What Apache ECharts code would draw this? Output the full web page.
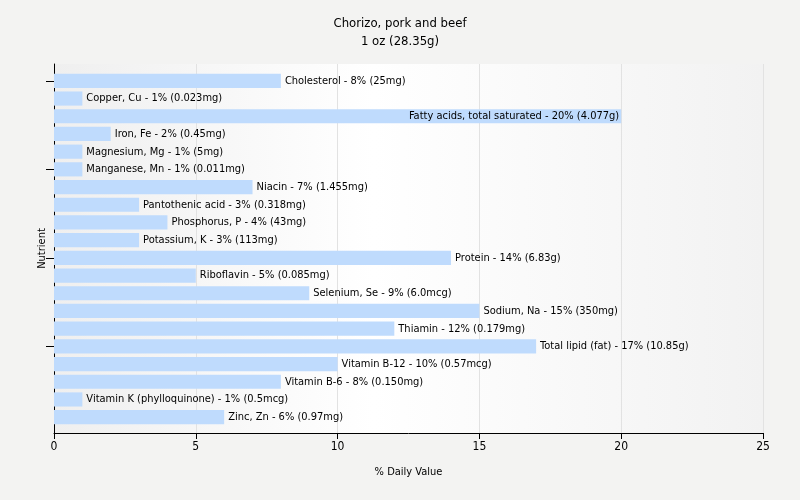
<!DOCTYPE html>
<html><head><meta charset="utf-8">
<script src="https://cdn.jsdelivr.net/npm/echarts@6/dist/echarts.min.js"></script>
<style>html,body{margin:0;padding:0;background:#f3f3f2}#c{width:800px;height:500px}</style>
</head><body><div id="c"></div>
<script>
const categories = ["Cholesterol","Copper, Cu","Fatty acids, total saturated","Iron, Fe","Magnesium, Mg","Manganese, Mn","Niacin","Pantothenic acid","Phosphorus, P","Potassium, K","Protein","Riboflavin","Selenium, Se","Sodium, Na","Thiamin","Total lipid (fat)","Vitamin B-12","Vitamin B-6","Vitamin K (phylloquinone)","Zinc, Zn"];
const values = [8,1,20,2,1,1,7,3,4,3,14,5,9,15,12,17,10,8,1,6];
const amounts = ["25mg","0.023mg","4.077g","0.45mg","5mg","0.011mg","1.455mg","0.318mg","43mg","113mg","6.83g","0.085mg","6.0mcg","350mg","0.179mg","10.85g","0.57mcg","0.150mg","0.5mcg","0.97mg"];
const xTicks = [0,5,10,15,20,25];

const font = '"DejaVu Sans Condensed", Tahoma, "DejaVu Sans", sans-serif';
const chart = echarts.init(document.getElementById('c'));
const data = values.map((v,i)=>({
  value: v,
  label: v >= 20 ? {position:'insideRight', distance: 2} : {position:'right', distance: 4}
}));
chart.setOption({
  backgroundColor:'#f3f3f2',
  animation:false,
  title:{text:'Chorizo, pork and beef\n1 oz (28.35g)', left:'center', top:10,
    textStyle:{fontFamily:font,fontSize:13,fontWeight:'normal',color:'#000',lineHeight:18}},
  grid:[
    {left:54,right:37,top:64,height:369,show:true,borderWidth:0,
     backgroundColor:{type:'linear',x:0,y:0,x2:1,y2:0,colorStops:[{offset:0,color:'#efefef'},{offset:0.45,color:'#ffffff'},{offset:1,color:'#f2f2f2'}]}},
    {left:54,right:37,top:72,height:354}
  ],
  xAxis:[
    {type:'value',gridIndex:0,min:0,max:25,interval:5,
     axisLine:{show:true,lineStyle:{color:'#000'}},
     axisTick:{show:true,length:6,lineStyle:{color:'#000'}},
     axisLabel:{fontFamily:font,fontSize:12,color:'#000',margin:8,formatter:v=>xTicks.includes(v)?String(v):''},
     splitLine:{show:true,lineStyle:{color:'#e2e2e2'}},
     name:'% Daily Value',nameLocation:'middle',nameGap:34,
     nameTextStyle:{fontFamily:font,fontSize:11,color:'#000'}},
    {type:'value',gridIndex:1,min:0,max:25,show:false}
  ],
  yAxis:[
    {type:'value',gridIndex:0,min:0,max:1,
     axisLine:{show:true,lineStyle:{color:'#000'}},axisTick:{show:false},axisLabel:{show:false},splitLine:{show:false},
     name:'Nutrient',nameLocation:'middle',nameGap:6,nameRotate:90,
     nameTextStyle:{fontFamily:font,fontSize:11,color:'#000'}},
    {type:'category',gridIndex:1,data:categories,inverse:true,
     axisLine:{show:false},
     axisTick:{show:true,interval:4,alignWithLabel:true,length:8,lineStyle:{color:'#000'}},
     axisLabel:{show:false},splitLine:{show:false}}
  ],
  series:[{
    type:'bar',xAxisIndex:1,yAxisIndex:1,data:data,barCategoryGap:'20%',
    itemStyle:{color:'#bfdbfd'},
    label:{show:true,fontFamily:font,fontSize:11,color:'#000',
      formatter:p=>categories[p.dataIndex]+' - '+values[p.dataIndex]+'% ('+amounts[p.dataIndex]+')'}
  }]
});
</script></body></html>
